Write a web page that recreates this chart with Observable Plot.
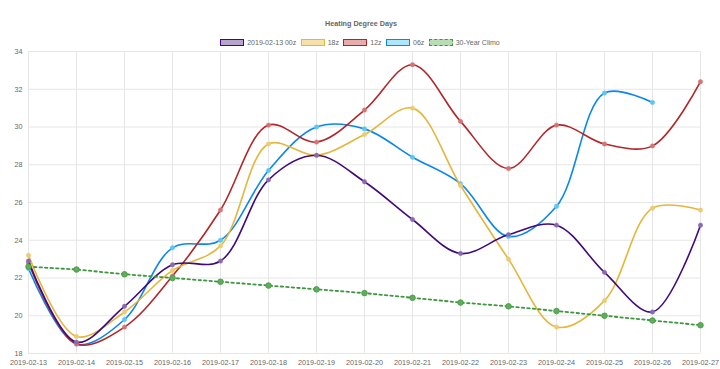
<!DOCTYPE html>
<html>
<head>
<meta charset="utf-8">
<script src="https://cdn.jsdelivr.net/npm/d3@7"></script>
<script src="https://cdn.jsdelivr.net/npm/@observablehq/plot@0.6"></script>
<style>
  html, body { margin: 0; padding: 0; background: #fff; width: 720px; height: 369px; overflow: hidden; }
  body { font-family: "Liberation Sans", Arial, Helvetica, sans-serif; color: #666; }
  #title { position: absolute; left: 0; width: 722px; top: 19px; text-align: center; font-size: 7.2px; font-weight: bold; color: #666; line-height: 9px; }
  #legend { position: absolute; left: 0; width: 720px; top: 38px; display: flex; justify-content: center; align-items: center; font-size: 7px; line-height: 9px; color: #666; }
  .item { display: flex; align-items: center; margin: 0 2.2px; }
  .box { width: 22px; height: 5.5px; margin-right: 3px; }
  #chart { position: absolute; left: 0; top: 46px; }
</style>
</head>
<body>
<div id="title">Heating Degree Days</div>
<div id="legend"></div>
<div id="chart"></div>
<script>
const dates = ["2019-02-13","2019-02-14","2019-02-15","2019-02-16","2019-02-17","2019-02-18","2019-02-19","2019-02-20","2019-02-21","2019-02-22","2019-02-23","2019-02-24","2019-02-25","2019-02-26","2019-02-27"];
const seriesNames = ["2019-02-13 00z","18z","12z","06z","30-Year Climo"];
const run00z = [22.9,18.6,20.5,22.7,22.9,27.2,28.5,27.1,25.1,23.3,24.3,24.8,22.3,20.2,24.8];
const run18z = [23.2,18.9,20.2,22.4,23.7,29.1,28.5,29.6,31.0,26.9,23.0,19.4,20.8,25.7,25.6];
const run12z = [22.8,18.5,19.4,22.1,25.6,30.1,29.2,30.9,33.3,30.3,27.8,30.1,29.1,29.0,32.4];
const run06z = [22.5,18.5,19.8,23.6,24.0,27.7,30.0,29.9,28.4,27.0,24.2,25.8,31.8,31.3,null];
const climo  = [22.6,22.45,22.2,22.0,21.8,21.6,21.4,21.2,20.95,20.7,20.5,20.25,20.0,19.75,19.5];
const yTicks = [18,20,22,24,26,28,30,32,34];

const styles = [
  {stroke: "#3f0a7a", fill: "#b9a3cf", point: "#8a6bb0"},
  {stroke: "#e3b63c", fill: "#f6e2a9", point: "#eccb74"},
  {stroke: "#b2262a", fill: "#e8acac", point: "#d57474"},
  {stroke: "#0a86ee", fill: "#a9e8ff", point: "#5cc6f7"},
  {stroke: "#3d9640", fill: "#b8dcb4", point: "#5fae5c"}
];
const allVals = [run00z, run18z, run12z, run06z, climo];

const rows = [];
allVals.forEach((vals, si) => {
  vals.forEach((v, i) => { if (v != null) rows.push({series: seriesNames[si], si, date: dates[i], value: v}); });
});

// legend
const legend = document.getElementById("legend");
seriesNames.forEach((name, i) => {
  const s = styles[i];
  const item = document.createElement("div");
  item.className = "item";
  const box = document.createElement("div");
  box.className = "box";
  box.style.background = s.fill;
  box.style.border = (i === 4 ? "1.5px dashed " : "1.5px solid ") + s.stroke;
  item.appendChild(box);
  const t = document.createElement("span");
  t.textContent = name;
  item.appendChild(t);
  legend.appendChild(item);
});

const lineMarks = [];
[3, 2, 1, 0].forEach(si => {
  const d = rows.filter(r => r.si === si);
  lineMarks.push(Plot.line(d, {x: "date", y: "value", stroke: styles[si].stroke, strokeWidth: 1.6, curve: "catmull-rom"}));
  lineMarks.push(Plot.dot(d, {x: "date", y: "value", r: 2.2, fill: styles[si].point, stroke: styles[si].point, strokeWidth: 0.5}));
});
const cd = rows.filter(r => r.si === 4);
lineMarks.push(Plot.line(cd, {x: "date", y: "value", stroke: styles[4].stroke, strokeWidth: 1.8, strokeDasharray: "2.5,3"}));
lineMarks.push(Plot.dot(cd, {x: "date", y: "value", r: 2.8, fill: styles[4].point, stroke: styles[4].stroke, strokeWidth: 0.8}));

const chart = Plot.plot({
  width: 720,
  height: 323,
  marginLeft: 28,
  marginRight: 20,
  marginTop: 5,
  marginBottom: 16,
  style: {fontFamily: "Liberation Sans, Arial, sans-serif", fontSize: "7.2px", color: "#666", background: "#fff", overflow: "visible"},
  x: {type: "point", domain: dates, padding: 0},
  y: {domain: [18, 34]},
  marks: [
    Plot.ruleX(dates, {stroke: "#e6e6e6", strokeWidth: 1}),
    Plot.ruleY(yTicks, {stroke: "#e6e6e6", strokeWidth: 1}),
    Plot.axisX({ticks: dates, tickSize: 0, tickPadding: 6, fill: "#666", label: null}),
    Plot.axisY({ticks: yTicks, tickSize: 0, tickPadding: 6, fill: "#666", label: null}),
    ...lineMarks
  ]
});
document.getElementById("chart").appendChild(chart);
</script>
</body>
</html>
